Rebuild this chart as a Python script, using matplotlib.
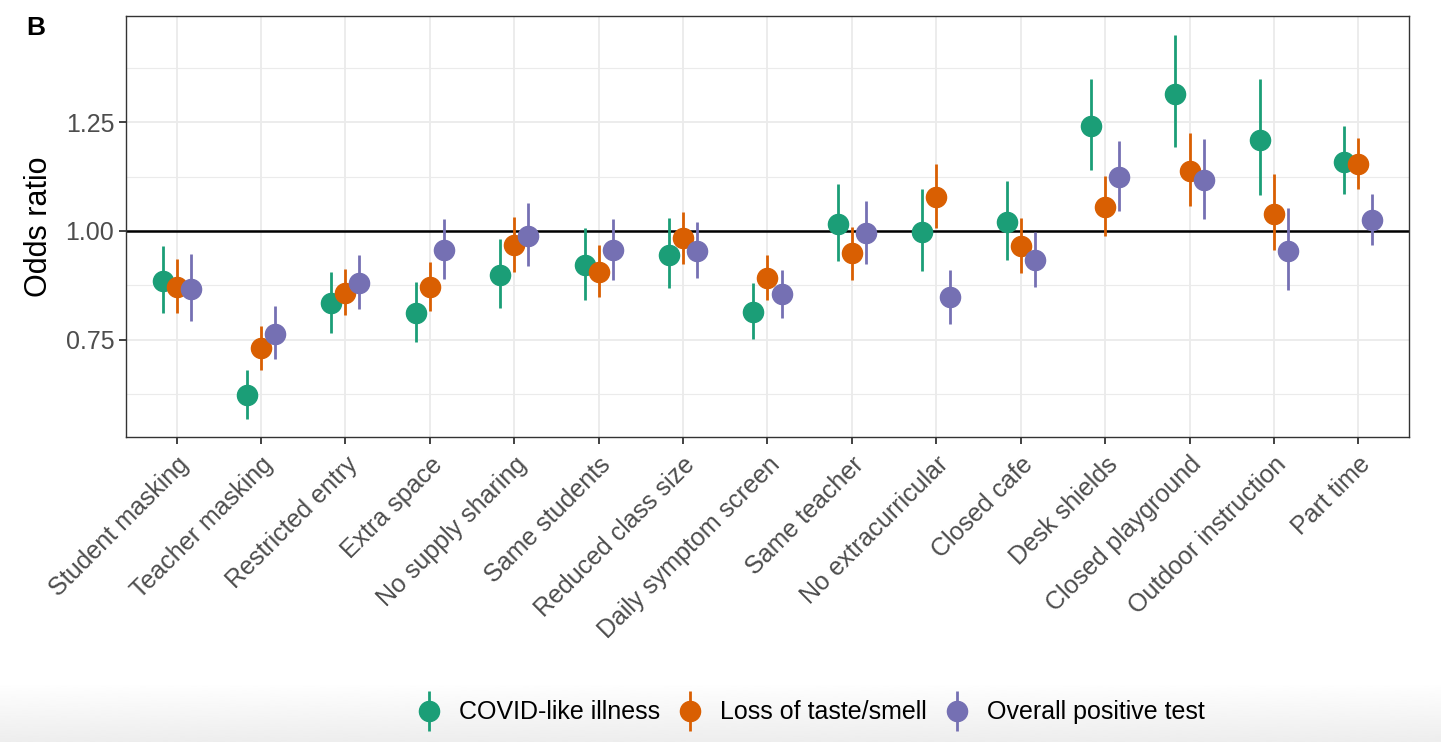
import matplotlib.pyplot as plt
import numpy as np
from matplotlib.container import ErrorbarContainer
from matplotlib.legend_handler import HandlerErrorbar

plt.rcParams['font.family'] = ['Liberation Sans', 'DejaVu Sans']

categories = ['Student masking', 'Teacher masking', 'Restricted entry', 'Extra space',
              'No supply sharing', 'Same students', 'Reduced class size',
              'Daily symptom screen', 'Same teacher', 'No extracurricular',
              'Closed cafe', 'Desk shields', 'Closed playground',
              'Outdoor instruction', 'Part time']

# COVID-like illness
ill_or = [0.885, 0.624, 0.835, 0.812, 0.899, 0.922, 0.945, 0.814, 1.015, 0.998,
          1.021, 1.241, 1.315, 1.209, 1.159]
ill_lo = [0.812, 0.569, 0.766, 0.745, 0.824, 0.842, 0.868, 0.753, 0.930, 0.908,
          0.934, 1.141, 1.192, 1.083, 1.084]
ill_hi = [0.966, 0.681, 0.906, 0.883, 0.982, 1.006, 1.029, 0.880, 1.108, 1.096,
          1.115, 1.349, 1.451, 1.349, 1.240]

# Loss of taste/smell
taste_or = [0.871, 0.731, 0.858, 0.872, 0.968, 0.906, 0.984, 0.892, 0.949, 1.079,
            0.966, 1.054, 1.138, 1.040, 1.153]
taste_lo = [0.812, 0.681, 0.807, 0.817, 0.907, 0.848, 0.924, 0.842, 0.888, 1.008,
            0.904, 0.988, 1.057, 0.956, 1.096]
taste_hi = [0.936, 0.782, 0.912, 0.928, 1.033, 0.967, 1.044, 0.944, 1.010, 1.154,
            1.029, 1.126, 1.226, 1.131, 1.213]

# Overall positive test
pos_or = [0.867, 0.764, 0.881, 0.957, 0.989, 0.956, 0.955, 0.855, 0.995, 0.848,
          0.933, 1.125, 1.116, 0.955, 1.025]
pos_lo = [0.794, 0.706, 0.821, 0.890, 0.919, 0.888, 0.893, 0.801, 0.925, 0.787,
          0.871, 1.047, 1.028, 0.865, 0.968]
pos_hi = [0.947, 0.828, 0.945, 1.028, 1.064, 1.028, 1.021, 0.911, 1.069, 0.911,
          0.997, 1.206, 1.211, 1.053, 1.086]

series = [('COVID-like illness', ill_or, ill_lo, ill_hi, '#1B9E77'),
          ('Loss of taste/smell', taste_or, taste_lo, taste_hi, '#D95F02'),
          ('Overall positive test', pos_or, pos_lo, pos_hi, '#7570B3')]

fig = plt.figure(figsize=(14.41, 7.42), dpi=100)

# light grey fade at the bottom (screenshot background)
bg = fig.add_axes([0, 0, 1, 1], zorder=-10)
bg.axis('off')
grad = np.linspace(0.93, 1.0, 256).reshape(-1, 1)
bg.imshow(grad, cmap='gray', vmin=0, vmax=1, aspect='auto', origin='lower',
          extent=[0, 1, 0, 0.08])
bg.set_xlim(0, 1)
bg.set_ylim(0, 1)

ax = fig.add_axes([0.0874, 0.411, 0.8904, 0.5677])
ax.set_facecolor('white')

x = np.arange(1, len(categories) + 1)
offsets = [-1 / 6, 0, 1 / 6]

ax.axhline(1.0, color='black', lw=1.8, zorder=2)

handles = []
for (name, est, lo, hi, col), off in zip(series, offsets):
    est = np.array(est)
    err = [est - np.array(lo), np.array(hi) - est]
    h = ax.errorbar(x + off, est, yerr=err, fmt='o', color=col, ms=14.5,
                    elinewidth=2.0, capsize=0, label=name, zorder=3)
    handles.append(h)

ax.set_xlim(0.4, 15.6)
ax.set_ylim(0.527, 1.494)
ax.set_xticks(x)
ax.set_xticklabels(categories, rotation=45, ha='right', rotation_mode='anchor')
ax.set_yticks([0.75, 1.0, 1.25])
ax.set_yticklabels(['0.75', '1.00', '1.25'])
ax.set_yticks([0.625, 0.875, 1.125, 1.375], minor=True)

ax.grid(True, which='major', color='#EBEBEB', lw=1.3, zorder=0)
ax.grid(True, which='minor', axis='y', color='#EBEBEB', lw=0.8, zorder=0)
ax.set_axisbelow(True)

ax.tick_params(axis='both', which='major', labelsize=18, colors='#333333',
               labelcolor='#4D4D4D', length=5, width=1.3, direction='out')
ax.tick_params(axis='y', which='minor', length=0)
ax.tick_params(axis='x', pad=6)
for s in ax.spines.values():
    s.set_color('#333333')
    s.set_linewidth(1.0)

ax.set_ylabel('Odds ratio', fontsize=22, labelpad=8)

fig.text(0.018, 0.953, 'B', fontsize=19, fontweight='bold')

ax.legend(handles=handles, loc='center', bbox_to_anchor=(0.563, 0.040),
          bbox_transform=fig.transFigure, ncol=3, frameon=False, fontsize=18,
          handlelength=0.9, handletextpad=0.75, columnspacing=0.75,
          handler_map={ErrorbarContainer: HandlerErrorbar(yerr_size=0.8)})

fig.savefig('out.png', dpi=100, facecolor='white')
